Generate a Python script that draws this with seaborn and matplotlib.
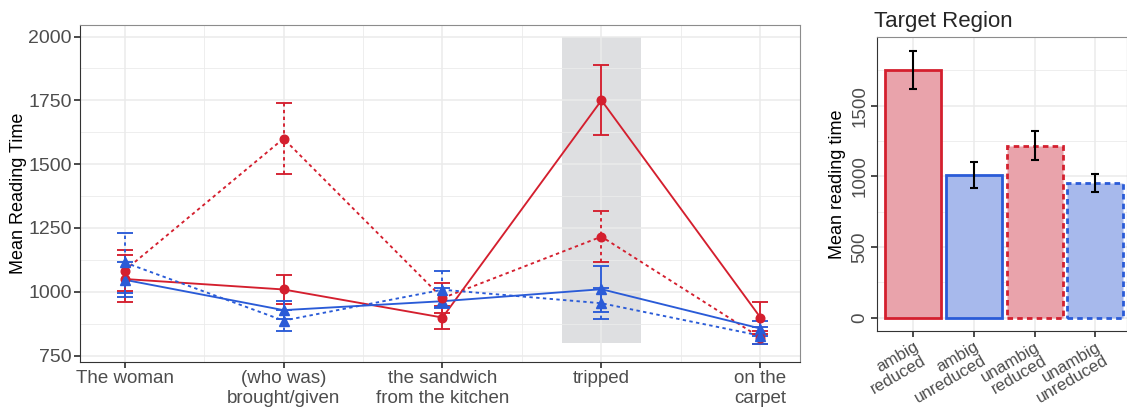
import numpy as np
import pandas as pd
import matplotlib
matplotlib.use("Agg")
import matplotlib.pyplot as plt
from matplotlib.ticker import MultipleLocator
import seaborn as sns

# Sentence regions
regions = ["The woman", "(who was)\nbrought/given", "the sandwich\nfrom the kitchen", "tripped", "on the\ncarpet"]

# Mean reading times per region for each condition, with lower/upper error limits
ambig_reduced = [1050, 1009, 899, 1750, 899]
ambig_reduced_lo = [960, 953, 855, 1615, 836]
ambig_reduced_hi = [1145, 1067, 945, 1888, 961]

ambig_unreduced = [1047, 928, 963, 1010, 856]
ambig_unreduced_lo = [978, 893, 940, 920, 825]
ambig_unreduced_hi = [1117, 965, 1016, 1100, 887]

unambig_reduced = [1083, 1600, 975, 1216, 820]
unambig_reduced_lo = [1002, 1460, 918, 1115, 795]
unambig_reduced_hi = [1165, 1740, 1035, 1318, 845]

unambig_unreduced = [1115, 887, 1008, 955, 828]
unambig_unreduced_lo = [997, 848, 935, 893, 795]
unambig_unreduced_hi = [1230, 930, 1080, 1015, 860]

# Target region summary
target_labels = ["ambig\nreduced", "ambig\nunreduced", "unambig\nreduced", "unambig\nunreduced"]
target_means = [1750, 1010, 1216, 955]
target_lo = [1615, 920, 1115, 890]
target_hi = [1888, 1100, 1318, 1015]

RED = "#D41F2E"
BLUE = "#2A5BD7"
RED_FILL = "#E9A3AB"
BLUE_FILL = "#A7B9EC"
TICK_GREY = "#4D4D4D"

sns.set_theme(style="whitegrid")
plt.rcParams["font.family"] = ["Liberation Sans", "DejaVu Sans"]

fig = plt.figure(figsize=(11.27, 4.17), dpi=100)
ax = fig.add_axes([0.071, 0.132, 0.639, 0.808])
axb = fig.add_axes([0.778, 0.206, 0.222, 0.705])

conds = [
    ("ambig", "reduced", ambig_reduced, ambig_reduced_lo, ambig_reduced_hi),
    ("ambig", "unreduced", ambig_unreduced, ambig_unreduced_lo, ambig_unreduced_hi),
    ("unambig", "reduced", unambig_reduced, unambig_reduced_lo, unambig_reduced_hi),
    ("unambig", "unreduced", unambig_unreduced, unambig_unreduced_lo, unambig_unreduced_hi),
]
rows = []
for amb, red, m, lo, hi in conds:
    for i, reg in enumerate(regions):
        rows.append(dict(pos=i + 1, region=reg, ambiguity=amb, reduction=red,
                         rt=m[i], lo=lo[i], hi=hi[i]))
df = pd.DataFrame(rows)

# Highlighted target region
ax.fill_between([3.75, 4.25], 800, 2000, color="#DEDFE1", zorder=0.5, linewidth=0)

dotted = (1.8, 1.8)
sns.lineplot(data=df, x="pos", y="rt", hue="reduction", style="ambiguity",
             palette={"reduced": RED, "unreduced": BLUE},
             dashes={"ambig": "", "unambig": dotted},
             markers=False, legend=False, ax=ax, linewidth=1.35, zorder=3)

for amb, red, m, lo, hi in conds:
    c = RED if red == "reduced" else BLUE
    ls = "-" if amb == "ambig" else (0, dotted)
    mk = "o" if red == "reduced" else "^"
    x = np.arange(1, 6)
    m = np.array(m); lo = np.array(lo); hi = np.array(hi)
    eb = ax.errorbar(x, m, yerr=[m - lo, hi - m], fmt="none", ecolor=c,
                     elinewidth=1.35, capsize=6, capthick=1.35, zorder=3)
    for part in eb[2]:
        part.set_linestyle(ls)
    ax.plot(x, m, linestyle="none", marker=mk, color=c,
            markersize=6.2 if mk == "o" else 7, zorder=4)

ax.set_xlim(0.72, 5.25)
ax.set_ylim(725, 2045)
ax.set_xticks(range(1, 6))
ax.set_xticklabels(regions)
ax.set_yticks([750, 1000, 1250, 1500, 1750, 2000])
ax.xaxis.set_minor_locator(MultipleLocator(0.5))
ax.yaxis.set_minor_locator(MultipleLocator(125))
ax.grid(which="major", color="#EBEBEB", linewidth=1.1)
ax.grid(which="minor", color="#EBEBEB", linewidth=0.6)
ax.set_xlabel("")
ax.set_ylabel("Mean Reading Time", fontsize=13, color="black", labelpad=1)
ax.tick_params(axis="both", which="major", labelcolor=TICK_GREY,
               length=4, color="#333333", left=True, bottom=True, pad=2)
plt.setp(ax.get_xticklabels(), fontsize=13.5)
plt.setp(ax.get_yticklabels(), fontsize=14)
ax.tick_params(which="minor", length=0)
for s in ax.spines.values():
    s.set_color("#8C8C8C")
    s.set_linewidth(0.8)
for s in ("left", "bottom"):
    ax.spines[s].set_color("#333333")

# Target region bar chart
tdf = pd.DataFrame(dict(cond=target_labels, rt=target_means))
sns.barplot(data=tdf, x="cond", y="rt", ax=axb, order=target_labels,
            palette=[RED_FILL, BLUE_FILL, RED_FILL, BLUE_FILL], saturation=1,
            hue="cond", legend=False, width=0.92, errorbar=None, zorder=2)
edges = [RED, BLUE, RED, BLUE]
styles = ["-", "-", (0, (2, 1.5)), (0, (2, 1.5))]
for p, ec, ls in zip(axb.patches, edges, styles):
    p.set_edgecolor(ec)
    p.set_linewidth(2)
    p.set_linestyle(ls)
tm = np.array(target_means)
axb.errorbar(np.arange(4), tm, yerr=[tm - np.array(target_lo), np.array(target_hi) - tm],
             fmt="none", ecolor="black", elinewidth=1.5, capsize=2.8, capthick=1.5, zorder=5)
axb.set_xlim(-0.6, 3.52)
axb.set_ylim(-95, 1985)
axb.set_yticks([0, 500, 1000, 1500])
axb.yaxis.set_minor_locator(MultipleLocator(250))
axb.grid(which="major", color="#EBEBEB", linewidth=1.1)
axb.grid(which="minor", axis="y", color="#EBEBEB", linewidth=0.6)
axb.set_axisbelow(True)
axb.set_xlabel("")
axb.set_ylabel("Mean reading time", fontsize=13, color="black", labelpad=4)
axb.set_title("Target Region", loc="left", fontsize=16, pad=7, x=-0.01)
axb.tick_params(axis="both", which="major", labelcolor=TICK_GREY,
                length=4, color="#333333", left=True, bottom=True, pad=2)
axb.tick_params(which="minor", length=0)
plt.setp(axb.get_yticklabels(), rotation=90, va="center", fontsize=13.5)
plt.setp(axb.get_xticklabels(), rotation=30, ha="right", va="top", rotation_mode="anchor",
         multialignment="right", fontsize=12.2, linespacing=1.05)
for s in axb.spines.values():
    s.set_color("#8C8C8C")
    s.set_linewidth(0.8)
for s in ("left", "bottom"):
    axb.spines[s].set_color("#333333")

fig.savefig("out.png", dpi=100)
